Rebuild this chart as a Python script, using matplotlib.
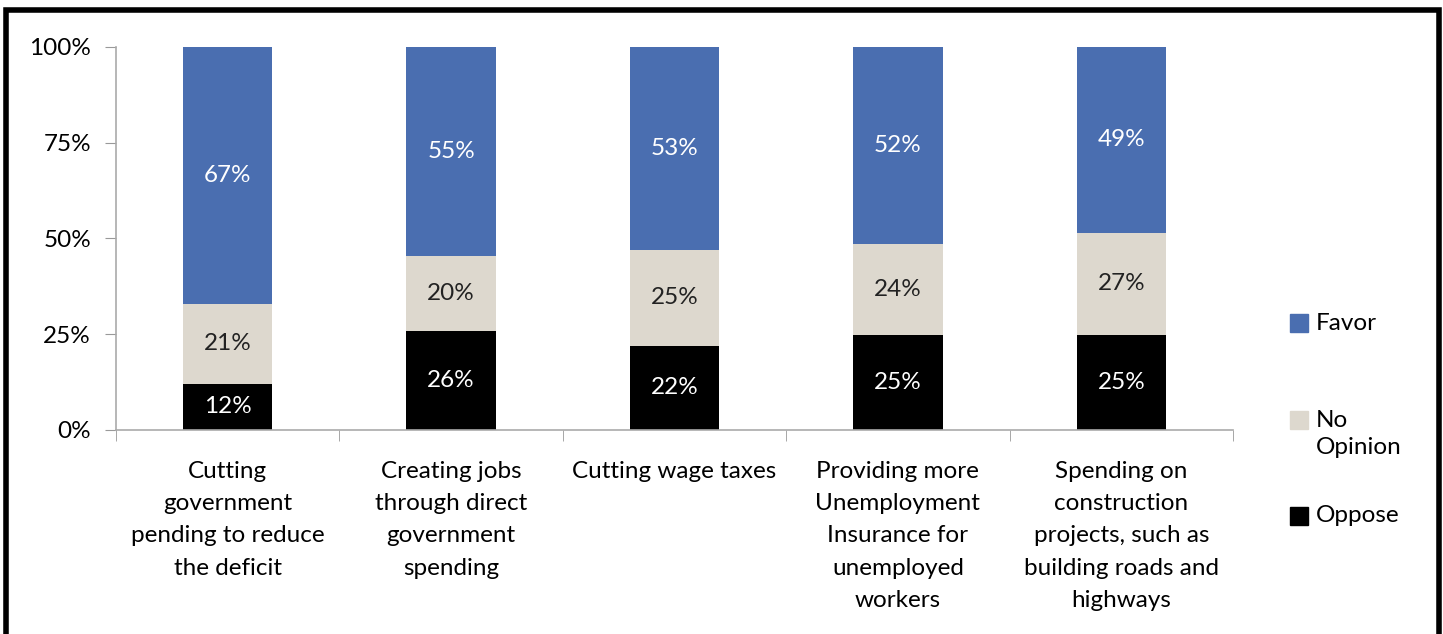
import numpy as np
import matplotlib
matplotlib.use("Agg")
import matplotlib.pyplot as plt
from matplotlib.patches import Rectangle
from matplotlib.ticker import FixedLocator, PercentFormatter

plt.rcParams['font.family'] = ['Lato', 'DejaVu Sans']

categories = [
    "Cutting\ngovernment\npending to reduce\nthe deficit",
    "Creating jobs\nthrough direct\ngovernment\nspending",
    "Cutting wage taxes",
    "Providing more\nUnemployment\nInsurance for\nunemployed\nworkers",
    "Spending on\nconstruction\nprojects, such as\nbuilding roads and\nhighways",
]
oppose = [12, 26, 22, 25, 25]
no_opinion = [21, 20, 25, 24, 27]
favor = [67, 55, 53, 52, 49]

blue = "#4A6EB0"
beige = "#DDD8CE"
black = "#000000"
FS = 17.5
W, H = 1443, 634

fig = plt.figure(figsize=(W / 100, H / 100), dpi=100)
ax = fig.add_axes([0.0804, 0.3218, 0.7741, 0.6041])

# 100% stacked: each column scaled by its own total
totals = np.array(oppose) + np.array(no_opinion) + np.array(favor)
series = [("Oppose", oppose, black, "white"),
          ("No Opinion", no_opinion, beige, "#222222"),
          ("Favor", favor, blue, "white")]
x = np.arange(len(categories))
bottom = np.zeros(len(categories))
for name, vals, col, tcol in series:
    share = np.array(vals) / totals * 100
    ax.bar(x, share, width=0.4, bottom=bottom, color=col, label=name)
    for xi, b, s, v in zip(x, bottom, share, vals):
        ax.text(xi, b + s / 2, f"{v}%", ha="center", va="center",
                fontsize=FS, color=tcol)
    bottom += share

ax.set_xlim(-0.5, len(categories) - 0.5)
ax.set_ylim(0, 100)
ax.yaxis.set_major_locator(FixedLocator([0, 25, 50, 75, 100]))
ax.yaxis.set_major_formatter(PercentFormatter(decimals=0))
ax.set_xticks(x)
ax.set_xticklabels(categories, fontsize=FS, linespacing=1.67)
ax.xaxis.set_minor_locator(FixedLocator(np.arange(-0.5, len(categories), 1)))
ax.tick_params(axis="x", which="major", length=0, pad=22)
ax.tick_params(axis="x", which="minor", length=8, color="#999999")
ax.tick_params(axis="y", length=8, color="#999999", labelsize=FS, pad=10)

for side in ["top", "right"]:
    ax.spines[side].set_visible(False)
for side in ["left", "bottom"]:
    ax.spines[side].set_color("#aaaaaa")
    ax.spines[side].set_linewidth(1.2)

# legend on the right: swatch lines up with the first line of its label
legend_items = [("Favor", blue, 323, 323),
                ("No\nOpinion", beige, 420, 434),
                ("Oppose", black, 516, 516)]
for label, col, sy, ty in legend_items:
    fig.patches.append(Rectangle((1290 / W, 1 - (sy + 9) / H), 18 / W, 18 / H,
                                 transform=fig.transFigure, color=col))
    fig.text(1316 / W, 1 - ty / H, label, ha="left", va="center",
             fontsize=FS, linespacing=1.4)

# outer frame
fig.patches.append(Rectangle((0.0045, -0.05), 0.9925, 1.035,
                             transform=fig.transFigure, fill=False,
                             edgecolor="black", linewidth=4))

fig.savefig("out.png", dpi=100)
